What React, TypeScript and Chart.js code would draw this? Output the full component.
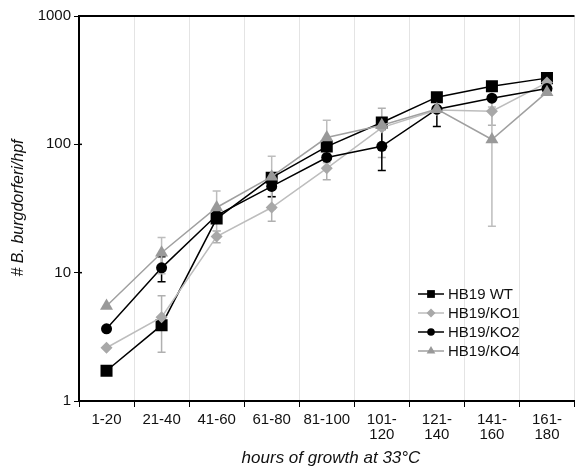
import React, { useEffect, useRef } from 'react';
import { Chart, registerables } from 'chart.js';
Chart.register(...registerables);

const categories: (string | string[])[] = ['1-20', '21-40', '41-60', '61-80', '81-100', ['101-', '120'], ['121-', '140'], ['141-', '160'], ['161-', '180']];
const yTicks = [1, 10, 100, 1000];

const wtValues = [1.72, 3.9, 26.4, 55, 96, 148, 233, 284, 328];
const ko1Values = [2.6, 4.5, 19.1, 32.2, 65, 135, 185, 181, 303];
const ko2Values = [3.65, 10.9, 28, 47, 79, 96.5, 188, 229, 272];
const ko4Values = [5.5, 14.3, 32.2, 56, 113, 141, 188, 109, 255];

const wtErr: (number | null)[] = [null, null, null, null, null, null, null, null, null];
const ko1Err: (number | null)[] = [null, 2.1, 2, 7, 12, 56, null, 40, null];
const ko2Err: (number | null)[] = [null, 2.4, null, 8, null, 34, 50, null, null];
const ko4Err: (number | null)[] = [null, 4.5, 11, 24.6, 41, null, null, 86, null];

const seriesNames = ['HB19 WT', 'HB19/KO1', 'HB19/KO2', 'HB19/KO4'];

const FONT = '"Liberation Sans", Arial, Helvetica, sans-serif';

export default function App() {
  const ref = useRef<HTMLCanvasElement>(null);
  useEffect(() => {
    const canvas = ref.current;
    if (!canvas) return;
    const styles = [
      { line: '#000000', fill: '#000000', point: 'rect', r: 8.5, lr: 5.5, err: '#000000', errData: wtErr },
      { line: '#bdbdbd', fill: '#a8a8a8', point: 'rectRot', r: 6, lr: 4.5, err: '#b0b0b0', errData: ko1Err },
      { line: '#000000', fill: '#000000', point: 'circle', r: 5.5, lr: 3.8, err: '#000000', errData: ko2Err },
      { line: '#a0a0a0', fill: '#999999', point: 'triangle', r: 7.5, lr: 5, err: '#bdbdbd', errData: ko4Err },
    ];
    const allValues = [wtValues, ko1Values, ko2Values, ko4Values];

    const bgPlugin = {
      id: 'bg',
      beforeDraw(chart: any) {
        const c = chart.ctx;
        c.save();
        c.fillStyle = '#ffffff';
        c.fillRect(0, 0, chart.width, chart.height);
        c.restore();
      },
    };

    const errPlugin = {
      id: 'errbars',
      beforeDatasetsDraw(chart: any) {
        const c = chart.ctx;
        const xs = chart.scales.x;
        const ys = chart.scales.y;
        c.save();
        styles.forEach((s, i) => {
          s.errData.forEach((e, j) => {
            if (e == null) return;
            const v = allValues[i][j];
            const px = xs.getPixelForValue(j);
            const top = ys.getPixelForValue(v + e);
            const bot = ys.getPixelForValue(Math.max(v - e, 1.01));
            c.strokeStyle = s.err;
            c.lineWidth = 1.5;
            c.beginPath();
            c.moveTo(px, top);
            c.lineTo(px, bot);
            c.moveTo(px - 4, top);
            c.lineTo(px + 4, top);
            c.moveTo(px - 4, bot);
            c.lineTo(px + 4, bot);
            c.stroke();
          });
        });
        c.restore();
      },
    };

    function drawMarker(c: CanvasRenderingContext2D, type: string, x: number, y: number, r: number, color: string) {
      c.save();
      c.fillStyle = color;
      c.beginPath();
      if (type === 'rect') {
        const s = Math.SQRT1_2 * r;
        c.rect(x - s, y - s, 2 * s, 2 * s);
      } else if (type === 'rectRot') {
        c.moveTo(x, y - r);
        c.lineTo(x + r, y);
        c.lineTo(x, y + r);
        c.lineTo(x - r, y);
        c.closePath();
      } else if (type === 'circle') {
        c.arc(x, y, r, 0, Math.PI * 2);
      } else {
        const h = r;
        c.moveTo(x, y - h);
        c.lineTo(x + h * 0.866, y + h * 0.5);
        c.lineTo(x - h * 0.866, y + h * 0.5);
        c.closePath();
      }
      c.fill();
      c.restore();
    }

    const decorPlugin = {
      id: 'decor',
      afterDraw(chart: any) {
        const c = chart.ctx;
        const a = chart.chartArea;
        const ys = chart.scales.y;
        c.save();
        // top frame
        c.strokeStyle = '#000';
        c.lineWidth = 2;
        c.beginPath();
        c.moveTo(a.left, a.top);
        c.lineTo(a.right, a.top);
        c.stroke();
        // small inner tick stubs on y axis
        c.lineWidth = 1.5;
        yTicks.forEach((v) => {
          const py = ys.getPixelForValue(v);
          c.beginPath();
          c.moveTo(a.left, py);
          c.lineTo(a.left + 3, py);
          c.stroke();
        });
        // axis titles
        c.fillStyle = '#111';
        c.font = 'italic 17px ' + FONT;
        c.textAlign = 'center';
        c.textBaseline = 'middle';
        c.fillText('hours of growth at 33°C', 331, 458);
        c.translate(19, 208);
        c.rotate(-Math.PI / 2);
        c.font = 'italic 16px ' + FONT;
        c.fillText('# B. burgdorferi/hpf', 0, 0);
        c.restore();

        // legend
        c.save();
        const lx0 = 418, lx1 = 444, mx = 431, tx = 448;
        const ly = [294, 313, 332, 351];
        styles.forEach((s, i) => {
          c.strokeStyle = s.line;
          c.lineWidth = 1.5;
          c.beginPath();
          c.moveTo(lx0, ly[i]);
          c.lineTo(lx1, ly[i]);
          c.stroke();
          drawMarker(c, s.point, mx, ly[i], s.lr, s.fill);
          c.fillStyle = '#111';
          c.font = '15px ' + FONT;
          c.textAlign = 'left';
          c.textBaseline = 'middle';
          c.fillText(seriesNames[i], tx, ly[i] + 1);
        });
        c.restore();
      },
    };

    const chart = new Chart(canvas, {
      type: 'line',
      data: {
        labels: categories as any,
        datasets: styles.map((s, i) => ({
          label: seriesNames[i],
          data: allValues[i],
          borderColor: s.line,
          backgroundColor: s.fill,
          borderWidth: 1.5,
          pointStyle: s.point as any,
          pointRadius: s.r,
          pointBackgroundColor: s.fill,
          pointBorderColor: s.fill,
          pointBorderWidth: 0,
          tension: 0,
          order: 4 - i,
        })),
      },
      options: {
        responsive: false,
        animation: false,
        layout: { padding: { top: 16, right: 0, left: 0, bottom: 0 } },
        plugins: {
          legend: { display: false },
          tooltip: { enabled: false },
        },
        scales: {
          x: {
            type: 'category',
            offset: true,
            grid: {
              offset: true,
              color: '#e4e4e4',
              tickColor: '#000',
              tickLength: 6,
              lineWidth: 1,
              drawOnChartArea: true,
            },
            border: { color: '#000', width: 2 },
            ticks: {
              color: '#111',
              font: { family: FONT, size: 15, lineHeight: 1.0 },
              padding: 5,
              maxRotation: 0,
              autoSkip: false,
            },
            afterFit(scale: any) {
              scale.height = 69;
            },
          },
          y: {
            type: 'logarithmic',
            min: 1,
            max: 1000,
            grid: {
              drawOnChartArea: false,
              color: '#000',
              tickColor: '#000',
              tickLength: 5,
            },
            border: { color: '#000', width: 2 },
            ticks: {
              color: '#111',
              font: { family: FONT, size: 15 },
              padding: 3,
              callback: (v: any) => String(v),
            },
            afterBuildTicks(scale: any) {
              scale.ticks = yTicks.map((v) => ({ value: v }));
            },
            afterFit(scale: any) {
              scale.width = 79;
            },
          },
        },
      },
      plugins: [bgPlugin, errPlugin, decorPlugin],
    });
    return () => chart.destroy();
  }, []);

  return (
    <div style={{ position: 'absolute', left: 0, top: 0, width: 583, height: 470 }}>
      <canvas ref={ref} width={583} height={470} style={{ display: 'block' }} />
    </div>
  );
}
